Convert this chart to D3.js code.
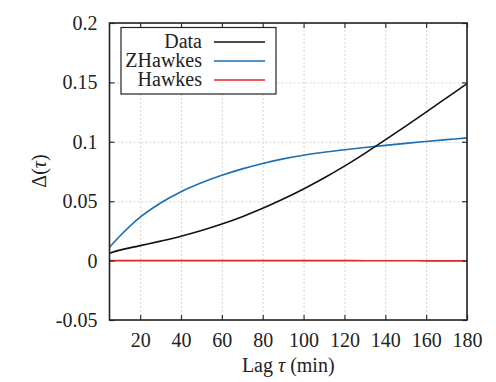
<!DOCTYPE html>
<html>
<head>
<meta charset="utf-8" />
<title>Delta(tau)</title>
<style>
body { margin: 0; background: #fff; }
#graph { width: 496px; height: 382px; }
.grid line { stroke: #d4d4d4; stroke-dasharray: 2 2; stroke-width: 1; }
.grid path { display: none; }
</style>
</head>
<body>
<div id="graph"></div>
<script src="https://cdnjs.cloudflare.com/ajax/libs/d3/7.8.5/d3.min.js"></script>
<script>
// lag in minutes
var lags = [5, 10, 20, 30, 40, 50, 60, 70, 80, 90, 100, 110, 120, 130, 140, 150, 160, 170, 180]
var dataVals = [0.0062, 0.0088, 0.0126, 0.0164, 0.0205, 0.0253, 0.0308, 0.0370, 0.0440, 0.0518, 0.0603, 0.0695, 0.0795, 0.0903, 0.1016, 0.1132, 0.1250, 0.1370, 0.1490]
var zhawkesVals = [0.0112, 0.0205, 0.0365, 0.0485, 0.0580, 0.0655, 0.0718, 0.0772, 0.0818, 0.0856, 0.0887, 0.0912, 0.0933, 0.0952, 0.0970, 0.0987, 0.1003, 0.1018, 0.1033]
var hawkesVals = [0, 0, 0, 0, 0, 0, 0, 0, 0, 0, 0, 0, 0, -0.0001, -0.0001, -0.0001, -0.0002, -0.0002, -0.0002]

var xTicks = [20, 40, 60, 80, 100, 120, 140, 160, 180]
var yTicks = [-0.05, 0, 0.05, 0.1, 0.15, 0.2]
var yTickLabels = ["-0.05", "0", "0.05", "0.1", "0.15", "0.2"]

var seriesNames = ["Data", "ZHawkes", "Hawkes"]
var seriesColors = ["#111111", "#1a6fb5", "#e3262b"]

var FONT = "'Liberation Serif'"

!(function(){
    "use strict"

    var width = 496, height = 382
    var margin = {top: 23, left: 109.5, bottom: 62, right: 29}
    var chartWidth = width - margin.left - margin.right
    var chartHeight = height - margin.top - margin.bottom

    var svg = d3.select("#graph").append("svg").attr("width", width).attr("height", height)
        .style("font-family", FONT)
    var g = svg.append("g").attr("transform", "translate(" + [margin.left, margin.top] + ")")

    var xScale = d3.scaleLinear().domain([5, 180]).range([0, chartWidth])
    var yScale = d3.scaleLinear().domain([-0.05, 0.2]).range([chartHeight, 0])

    // grid
    g.append("g").attr("class", "grid")
        .attr("transform", "translate(0," + chartHeight + ")")
        .call(d3.axisBottom(xScale).tickValues(xTicks).tickSize(-chartHeight).tickFormat(""))
    g.append("g").attr("class", "grid")
        .call(d3.axisLeft(yScale).tickValues(yTicks).tickSize(-chartWidth).tickFormat(""))

    // series
    var line = d3.line()
        .x(function(d){ return xScale(d[0]) })
        .y(function(d){ return yScale(d[1]) })
        .curve(d3.curveCatmullRom)

    var all = [dataVals, zhawkesVals, hawkesVals]
    // Hawkes first, Data on top
    ;[2, 1, 0].forEach(function(i){
        g.append("path")
            .datum(lags.map(function(l, j){ return [l, all[i][j]] }))
            .attr("fill", "none")
            .attr("stroke", seriesColors[i])
            .attr("stroke-width", 1.6)
            .attr("d", line)
    })

    // frame and inward ticks
    function styleAxis(sel) {
        sel.attr("font-family", null).attr("font-size", null)
        sel.select(".domain").remove()
        sel.selectAll(".tick line").attr("stroke", "#333").attr("stroke-width", 1.2)
        sel.selectAll(".tick text").style("font-family", FONT).style("font-size", "20px").attr("fill", "#222")
    }
    var xb = g.append("g").attr("transform", "translate(0," + chartHeight + ")")
        .call(d3.axisBottom(xScale).tickValues(xTicks).tickSizeInner(-5).tickPadding(13))
    styleAxis(xb)
    xb.selectAll(".tick text").attr("dy", "0.71em")
    var xt = g.append("g").call(d3.axisTop(xScale).tickValues(xTicks).tickSizeInner(-5).tickFormat(""))
    styleAxis(xt)
    var yl = g.append("g")
        .call(d3.axisLeft(yScale).tickValues(yTicks).tickSizeInner(-5).tickPadding(12)
            .tickFormat(function(d, i){ return yTickLabels[i] }))
    styleAxis(yl)
    var yr = g.append("g").attr("transform", "translate(" + chartWidth + ",0)")
        .call(d3.axisRight(yScale).tickValues(yTicks).tickSizeInner(-5).tickFormat(""))
    styleAxis(yr)

    g.append("rect")
        .attr("width", chartWidth).attr("height", chartHeight)
        .attr("fill", "none").attr("stroke", "#222").attr("stroke-width", 1.6)

    // axis titles
    var xt2 = svg.append("text")
        .attr("x", margin.left + chartWidth / 2).attr("y", 372)
        .attr("text-anchor", "middle").attr("fill", "#222")
        .style("font-family", FONT).style("font-size", "20px")
    xt2.append("tspan").text("Lag ")
    xt2.append("tspan").style("font-style", "italic").text("τ")
    xt2.append("tspan").text(" (min)")

    var yt = svg.append("text")
        .attr("transform", "translate(46,171) rotate(-90)")
        .attr("text-anchor", "middle").attr("fill", "#222")
        .style("font-family", FONT).style("font-size", "20px")
    yt.append("tspan").text("Δ(")
    yt.append("tspan").style("font-style", "italic").text("τ")
    yt.append("tspan").text(")")

    // legend
    var lg = svg.append("g").attr("transform", "translate(121,27.5)")
    lg.append("rect").attr("width", 155).attr("height", 66.5)
        .attr("fill", "#fff").attr("stroke", "#222").attr("stroke-width", 1.2)
    seriesNames.forEach(function(name, i){
        var yy = 14.5 + i * 19
        lg.append("text").attr("x", 81).attr("y", yy).attr("dy", "0.32em")
            .attr("text-anchor", "end").attr("fill", "#222")
            .style("font-family", FONT).style("font-size", "20px").text(name)
        lg.append("line").attr("x1", 93).attr("x2", 144).attr("y1", yy).attr("y2", yy)
            .attr("stroke", seriesColors[i]).attr("stroke-width", 1.6)
    })
}());
</script>
</body>
</html>
